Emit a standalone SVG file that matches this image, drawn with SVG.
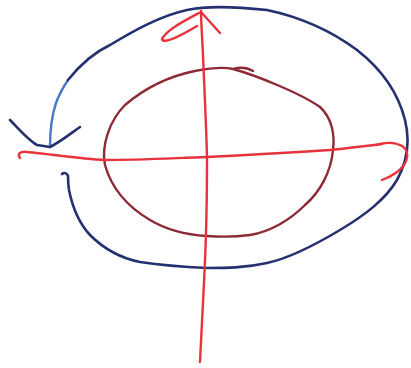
<svg xmlns="http://www.w3.org/2000/svg" width="411" height="368" viewBox="0 0 411 368">
<style>
.s{fill:none;stroke-linecap:round;stroke-linejoin:round}
.ax{stroke:#e8323c;stroke-width:2.4}
.ov{stroke:#8c2a36;stroke-width:2.4}
.bl{stroke:#24306f;stroke-width:2.6}
.lb{stroke:#4a78c8;stroke-width:2.4}
</style>
<rect width="411" height="368" fill="#ffffff"/>
<g id="oval">
<path class="s ov" d="M253,71 C248,68 240,67 233,69 C255,75 300,93 320,107 C332,118 335,135 333,150 C331,172 320,192 305,205 C290,220 270,232 250,235 C235,237 220,237 207,236 C190,235 170,232 150,220 C128,207 112,190 105,165 C101,145 110,120 125,105 C145,88 170,76 195,71 C210,68 225,67 233,69"/>
</g>
<g id="blue-loop">
<path class="s lb" d="M50,147 C50,130 52,115 56,103 C60,92 64,86 68,80"/>
<path class="s bl" d="M68,80 C80,65 95,52 110,45 C135,30 160,16 187,10 C205,6 230,6 267,10 C300,17 330,30 357,50 C380,68 398,92 405,120 C410,140 408,160 397,180 C385,200 365,215 340,230 C315,245 290,258 267,263 C245,268 225,268 207,268 C185,267 160,265 140,262 C120,258 105,250 90,235 C78,222 72,205 69,190 C68,183 68,178 68,176 C67,173 64,172 62,174"/>
<path class="s bl" d="M10,120 C18,128 28,140 37,145 L50,147 C60,142 70,134 80,127"/>
</g>
<g id="axes">
<path class="s ax" d="M200,362 C202,320 205,270 206,233 C207,200 207,175 207,157 C206,120 204,80 203,55 C202,35 201,20 201,11"/>
<path class="s ax" d="M199,13 C186,20 166,30 162,39 C163,45 182,35 197,26"/>
<path class="s ax" d="M201,12 L220,33"/>
<path class="s ax" d="M20,158 C17,154 20,151 27,152 C50,154 80,159 105,160 C140,160 175,158 207,157 C250,155 300,152 330,150 C350,148 365,146 382,144"/>
<path class="s ax" d="M377,145 C385,142 395,142 402,146 C408,150 409,157 404,165 C399,172 390,177 382,180"/>
</g>
</svg>
